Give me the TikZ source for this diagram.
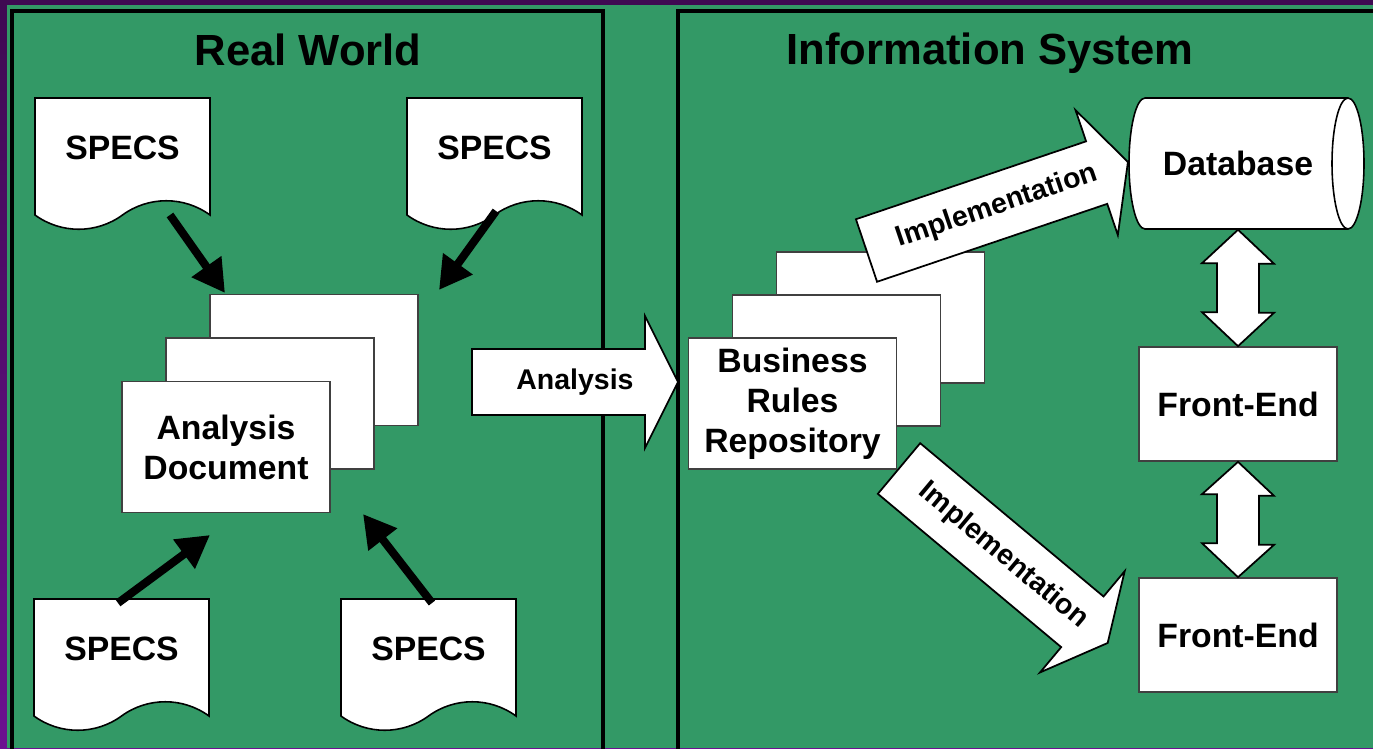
\documentclass[tikz,border=0pt]{standalone}
\usepackage{fontspec}
\setmainfont{Liberation Sans}
\usetikzlibrary{arrows.meta}
\definecolor{rwGreen}{HTML}{339966}
\definecolor{rwPurpleDark}{HTML}{3F0A52}
\definecolor{rwPurple}{HTML}{6C1190}

\begin{document}
\begin{tikzpicture}[x=0.01cm, y=-0.01cm,
    panel/.style={draw, line width=1.1pt},
    sheet/.style={draw, line width=0.45pt, fill=white},
    page/.style={sheet, draw=black!75, minimum width=2.08cm, minimum height=1.31cm, inner sep=0pt,
      align=center, font=\bfseries\fontsize{9.6}{11.4}\selectfont},
    fe/.style={page, minimum width=1.98cm, minimum height=1.14cm},
    doclabel/.style={inner sep=0pt, font=\bfseries\fontsize{9.6}{11.4}\selectfont},
    title/.style={inner sep=0pt, font=\bfseries\fontsize{12.4}{14}\selectfont},
    arrowtext/.style={inner sep=0pt, font=\bfseries\fontsize{8.1}{10}\selectfont},
    bigarrow/.style={draw, line width=0.5pt, fill=white},
    feed/.style={line width=2.3pt, -{Triangle[length=9.2pt, width=9.8pt]}}]
  \useasboundingbox (0,0) rectangle (1373,748);

  % backdrop and the two panels
  \shade[top color=rwPurpleDark, bottom color=rwPurple] (0,0) rectangle (1373,748);
  \fill[rwGreen] (7,5) rectangle (1373,748);
  \draw[panel] (12,760) |- (603,11) -- (603,760);
  \draw[panel] (678,760) |- (1390,11);

  \node[title] (rw) at (308,50) {Real World};
  \node[title] (is) at (990,53) {Information System};

  % spec sheets with wavy bottom
  \foreach \n/\x/\y in {sp1/35/98, sp2/407/98, sp3/34/599, sp4/341/599} {
    \draw[sheet] (\x,\y) -- ++(175,0) -- ++(0,117)
      .. controls +(-26,-19) and +(26,-19) .. ++(-87.5,0)
      .. controls +(-26,19) and +(26,19) .. ++(-87.5,0) -- cycle;
    \node[doclabel] (\n) at ({\x+87.5},{\y+50}) {SPECS};
  }

  % stacked pages
  \foreach \i in {2,1}
    \node[page] (ad\i) at ({226+44*\i},{447-43.5*\i}) {};
  \node[page] (ad) at (226,447) {Analysis\\Document};
  \foreach \i in {2,1}
    \node[page] (br\i) at ({792.5+44*\i},{403.5-43*\i}) {};
  \node[page] (br) at (792.5,403.5) {Business\\Rules\\Repository};

  % specs feeding the analysis document
  \coordinate (f1) at (170,215);  \coordinate (t1) at (225,293);
  \coordinate (f2) at (496,211);  \coordinate (t2) at (439,290);
  \coordinate (f3) at (118,603);  \coordinate (t3) at (210,535);
  \coordinate (f4) at (432,603);  \coordinate (t4) at (363,514);
  \foreach \k in {1,...,4}
    \draw[feed] (f\k) -- (t\k);

  % block arrows with labels
  \foreach \n/\x/\y/\a/\l/\t in {an/472/382/0/206/Analysis,
      im1/866.5/250.5/18.7/276/Implementation, im2/899/468.5/-39.9/272/Implementation} {
    \begin{scope}[shift={(\x,\y)}, rotate=\a]
      \draw[bigarrow] (0,-33) -- ({\l-33},-33) -- ({\l-33},-66) -- (\l,0)
        -- ({\l-33},66) -- ({\l-33},33) -- (0,33) -- cycle;
      \node[arrowtext, transform shape] (\n) at ({\l/2},0) {\t};
    \end{scope}
  }

  % database cylinder
  \draw[sheet] (1145,98) -- (1348,98) arc[start angle=-90, end angle=90, x radius=16, y radius=65.5]
    -- (1145,229) arc[start angle=90, end angle=270, x radius=16, y radius=65.5] -- cycle;
  \draw[line width=0.45pt] (1348,98) arc[start angle=-90, end angle=-270, x radius=16, y radius=65.5];
  \node[doclabel, minimum height=1.31cm] (db) at (1238,163.5) {Database};

  \node[fe] (fe1) at (1238,404) {Front-End};
  \node[fe] (fe2) at (1238,635) {Front-End};

  \foreach \a/\b in {db/fe1, fe1/fe2}
    \draw[bigarrow] (\a.south) -- ++(36,34) -- ++(-15,0) -- ++(0,49) -- ++(15,0) -- (\b.north)
      -- ++(-36,-34) -- ++(15,0) -- ++(0,-49) -- ++(-15,0) -- cycle;
\end{tikzpicture}
\end{document}
